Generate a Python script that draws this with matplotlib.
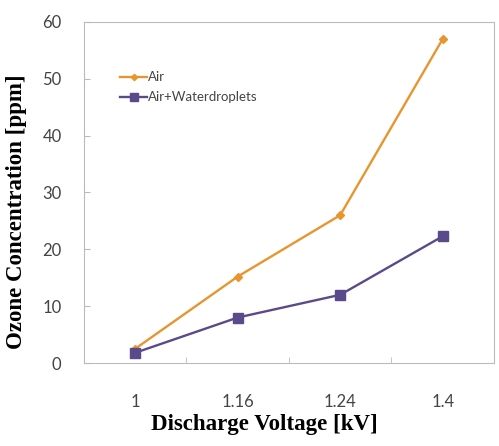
import numpy as np
import matplotlib.pyplot as plt
from matplotlib.ticker import FixedLocator

# data
voltages = ["1", "1.16", "1.24", "1.4"]
air = [2.5, 15.2, 26.0, 57.0]
air_water = [1.8, 8.0, 12.0, 22.3]

fig = plt.figure(figsize=(4.99, 4.46), dpi=100)
ax = fig.add_axes([0.168, 0.186, 0.822, 0.765])

x = np.arange(len(voltages))
ax.plot(x, air, color="#E8952F", marker="D", markersize=4, lw=1.7, label="Air")
ax.plot(x, air_water, color="#5B4A8B", marker="s", markersize=7.5, lw=1.7,
        label="Air+Waterdroplets")

ax.set_xlim(-0.5, len(voltages) - 0.5)
ax.set_ylim(0, 60)
ax.set_xticks(x)
ax.set_xticklabels(voltages, fontfamily="Lato")
ax.xaxis.set_minor_locator(FixedLocator(x[:-1] + 0.5))
ax.set_yticks(range(0, 61, 10))
ax.set_yticklabels([str(v) for v in range(0, 61, 10)], fontfamily="Lato")

for s in ax.spines.values():
    s.set_color("#BBBBBB")
ax.tick_params(axis="x", which="major", length=0, pad=22, labelsize=12, labelcolor="#444444")
ax.tick_params(axis="x", which="minor", direction="in", length=4, color="#BBBBBB")
ax.tick_params(axis="y", direction="in", length=4, color="#BBBBBB", pad=16,
               labelsize=12, labelcolor="#444444")

ax.set_xlabel("Discharge Voltage [kV]", fontfamily="Liberation Serif",
              fontweight="bold", fontsize=16.5)
ax.xaxis.set_label_coords(0.44, -0.148)
ax.set_ylabel("Ozone Concentration [ppm]", fontfamily="Liberation Serif",
              fontweight="bold", fontsize=16.5)
ax.yaxis.set_label_coords(-0.138, 0.443)

leg = ax.legend(loc="upper left", bbox_to_anchor=(0.06, 0.89), frameon=False,
                prop={"family": "Lato", "size": 9.5}, handlelength=2.0,
                handletextpad=0.1, labelspacing=0.6, labelcolor="#444444",
                markerscale=0.8)

fig.savefig("out.png", dpi=100)
